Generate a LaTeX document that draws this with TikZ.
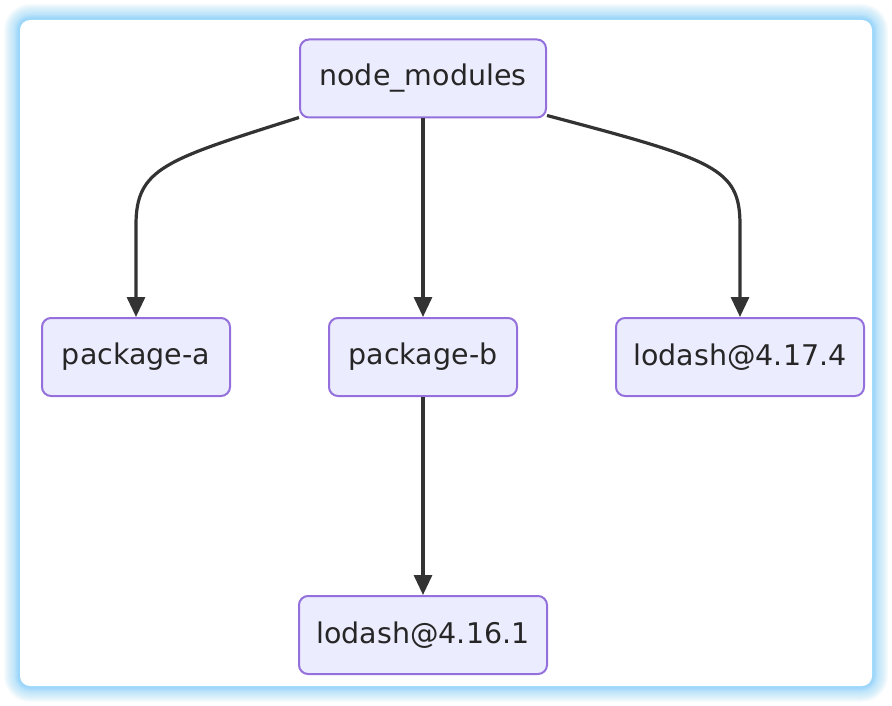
\documentclass[tikz,border=0pt]{standalone}
\usepackage{fontspec}
\setmainfont{DejaVu Sans}
\usetikzlibrary{arrows.meta,calc}
\definecolor{nodefill}{HTML}{ECECFF}
\definecolor{nodeborder}{HTML}{9370DB}
\definecolor{edgecol}{HTML}{333333}
\definecolor{glow}{RGB}{120,205,250}
\tikzset{
  box/.style={draw=nodeborder, fill=nodefill, line width=2pt, rounded corners=9pt,
    minimum height=78pt, inner sep=0pt, font=\fontsize{28.5}{31}\selectfont, text=black!85},
  link/.style={draw=edgecol, line width=3.2pt, -{Triangle[length=20pt,width=18pt]}}
}
\begin{document}
\begin{tikzpicture}[x=1pt,y=-1pt]
\useasboundingbox (0,0) rectangle (892,706);
\fill[white] (0,0) rectangle (892,706);
\foreach \i in {1,...,16}{
  \fill[glow, fill opacity=0.05, rounded corners=10pt+\i pt] (20-\i,20-\i) rectangle (872+\i,686+\i);
}
\foreach \i in {1,...,5}{
  \fill[glow, fill opacity=0.08, rounded corners=10pt+\i pt] (20-\i,20-\i) rectangle (872+\i,686+\i);
}
\fill[white, rounded corners=10pt] (20,20) rectangle (872,686);
\node[box, minimum width=246pt] (nm) at (423,78.5) {node\_modules};
\node[box, minimum width=188pt] (pa) at (136,357) {package-a};
\node[box, minimum width=188pt] (pb) at (423,357) {package-b};
\node[box, minimum width=248pt] (lb) at (740,357) {lodash@4.17.4};
\node[box, minimum width=248pt] (la) at (423,635) {lodash@4.16.1};
\draw[link] ($(nm.south west)+(0,-1)$) .. controls (165,160) and (136,168) .. (136,225) -- (pa.north);
\draw[link] (nm.south) -- (pb.north);
\draw[link] ($(nm.south east)+(0,-3)$) .. controls (715,160) and (740,168) .. (740,225) -- (lb.north);
\draw[link] (pb.south) -- (la.north);
\end{tikzpicture}
\end{document}
